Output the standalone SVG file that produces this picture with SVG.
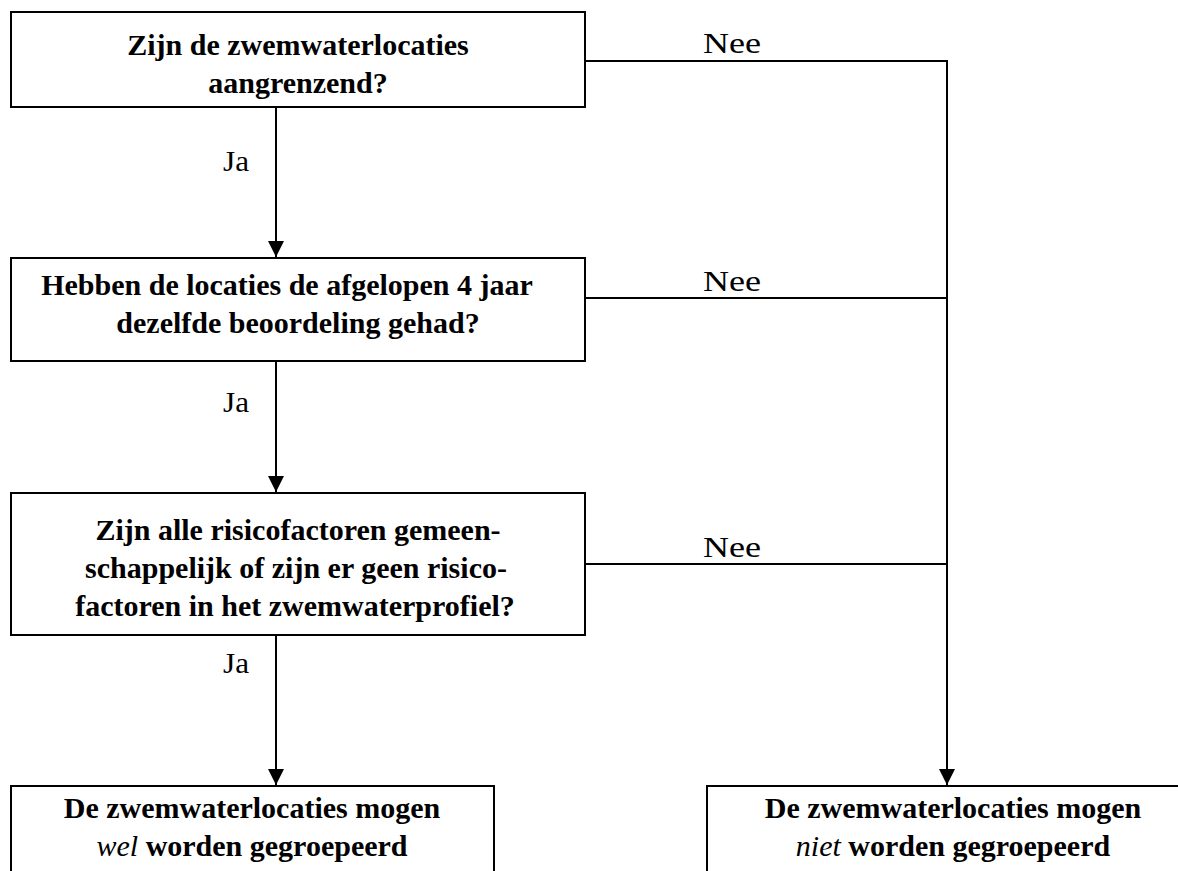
<svg xmlns="http://www.w3.org/2000/svg" width="1178" height="871" viewBox="0 0 1178 871">
<defs>
<marker id="arr" viewBox="0 0 10 10" refX="10" refY="5" markerWidth="16" markerHeight="16" markerUnits="userSpaceOnUse" orient="auto"><path d="M0,0 L10,5 L0,10 z" fill="#000"/></marker>
<style>
.box{fill:#fff;stroke:#000;stroke-width:2}
.t{font-family:"Liberation Serif",serif;font-size:30px;font-weight:bold;text-anchor:middle;fill:#000}
.l{font-family:"Liberation Serif",serif;font-size:30px;fill:#000}
.c{stroke:#000;stroke-width:2;fill:none}
</style>
</defs>
<g id="connectors">
<line class="c" x1="276" y1="107" x2="276" y2="257" marker-end="url(#arr)"/>
<line class="c" x1="276" y1="361" x2="276" y2="492" marker-end="url(#arr)"/>
<line class="c" x1="276" y1="635" x2="276" y2="785" marker-end="url(#arr)"/>
<polyline class="c" points="585,61 947,61 947,785" marker-end="url(#arr)"/>
<line class="c" x1="585" y1="298" x2="947" y2="298"/>
<line class="c" x1="585" y1="564" x2="947" y2="564"/>
<text class="l" x="223" y="171" textLength="26" lengthAdjust="spacingAndGlyphs">Ja</text>
<text class="l" x="223" y="412" textLength="26" lengthAdjust="spacingAndGlyphs">Ja</text>
<text class="l" x="223" y="673" textLength="26" lengthAdjust="spacingAndGlyphs">Ja</text>
<text class="l" x="703" y="53" textLength="58" lengthAdjust="spacingAndGlyphs">Nee</text>
<text class="l" x="703" y="291" textLength="58" lengthAdjust="spacingAndGlyphs">Nee</text>
<text class="l" x="703" y="557" textLength="58" lengthAdjust="spacingAndGlyphs">Nee</text>
</g>
<g id="n1">
<rect class="box" x="11" y="12" width="574" height="95"/>
<text class="t" x="298" y="55">Zijn de zwemwaterlocaties</text>
<text class="t" x="298" y="93">aangrenzend?</text>
</g>
<g id="n2">
<rect class="box" x="11" y="258" width="574" height="103"/>
<text class="t" x="287" y="295">Hebben de locaties de afgelopen 4 jaar</text>
<text class="t" x="298" y="333">dezelfde beoordeling gehad?</text>
</g>
<g id="n3">
<rect class="box" x="11" y="493" width="574" height="142"/>
<text class="t" x="298" y="540">Zijn alle risicofactoren gemeen-</text>
<text class="t" x="296" y="578">schappelijk of zijn er geen risico-</text>
<text class="t" x="295" y="616">factoren in het zwemwaterprofiel?</text>
</g>
<g id="n4">
<rect class="box" x="11" y="786" width="483" height="100"/>
<text class="t" x="252" y="818">De zwemwaterlocaties mogen</text>
<text class="t" x="252" y="856"><tspan font-style="italic" font-weight="normal">wel</tspan> worden gegroepeerd</text>
</g>
<g id="n5">
<rect class="box" x="707" y="786" width="483" height="100"/>
<text class="t" x="953" y="818">De zwemwaterlocaties mogen</text>
<text class="t" x="953" y="856"><tspan font-style="italic" font-weight="normal">niet</tspan> worden gegroepeerd</text>
</g>
</svg>
